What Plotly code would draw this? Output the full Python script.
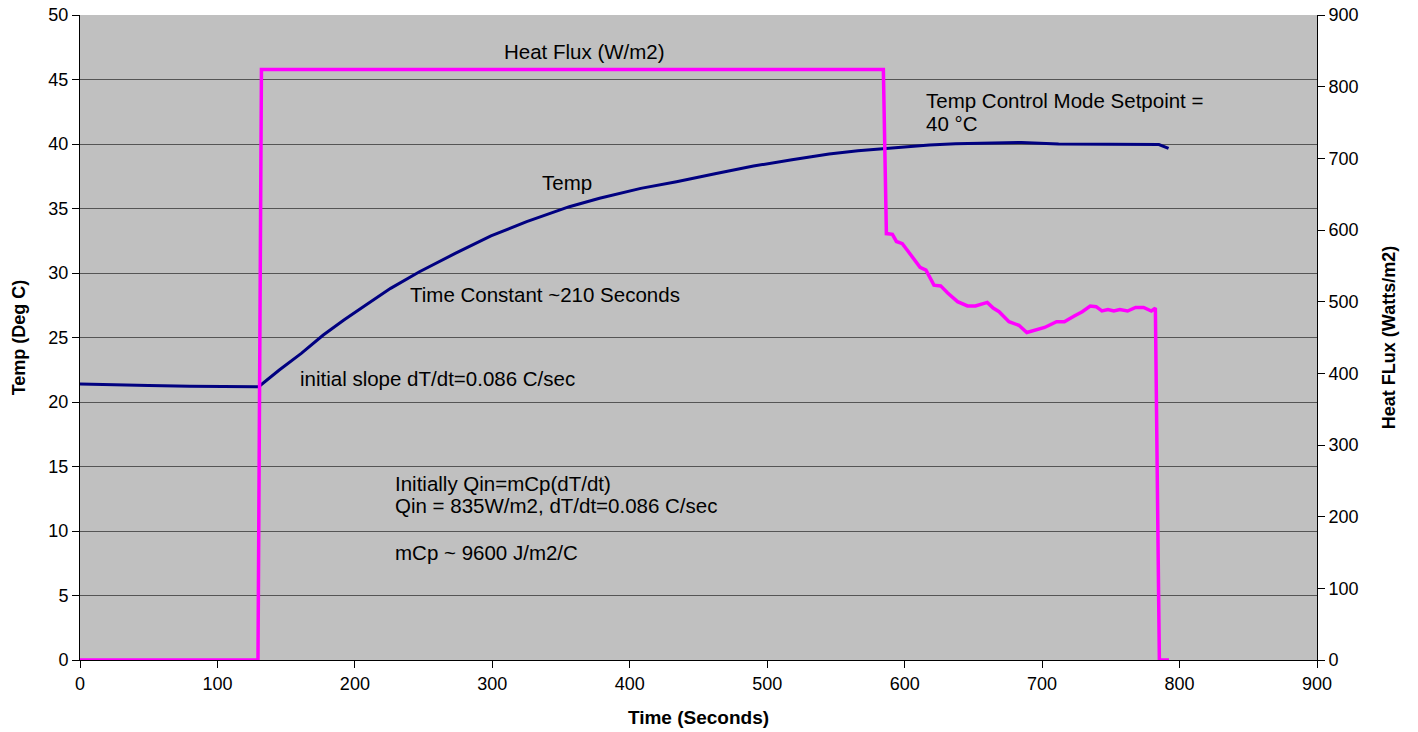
import plotly.graph_objects as go

# Temperature series (seconds, deg C)
temp_t = [0, 20, 50, 80, 104, 130, 145, 161, 177, 192, 208, 226, 247, 273, 299, 325,
          356, 378, 408, 434, 462, 490, 518, 545, 566, 587, 603, 618, 637, 657, 685,
          712, 735, 755, 775, 785, 792]
temp_v = [21.4, 21.33, 21.27, 21.23, 21.19, 21.18, 22.48, 23.77, 25.19, 26.36, 27.52,
          28.81, 30.1, 31.52, 32.87, 33.98, 35.14, 35.79, 36.56, 37.08, 37.7, 38.29,
          38.78, 39.22, 39.47, 39.66, 39.8, 39.92, 40.02, 40.08, 40.12, 40.0, 39.98,
          40.0, 39.98, 39.96, 39.66]

# Heat flux series (seconds, W/m2)
flux_t = [0, 129.5, 132, 584.5, 586.7, 591.1, 594, 598.3, 602.6, 606.9, 611.2, 615.5,
          618.4, 621.3, 626.2, 631.3, 638.5, 645.7, 651.5, 660.1, 664.4, 668.7, 675.9,
          683.1, 688.9, 694.6, 701.8, 710.5, 716.2, 723.4, 729.2, 735, 739.3, 743.5,
          747.9, 752.2, 756.5, 762.2, 768, 773.8, 779.5, 782.4, 785.3, 792.3]
flux_v = [0, 0, 824, 824, 595, 594, 584, 581, 570, 558, 548, 544, 533, 523, 522, 512,
          500, 494, 494, 499, 491, 486, 472, 467, 457, 460, 464, 472, 472, 480, 486,
          494, 493, 487, 489, 487, 489, 487, 492, 492, 487, 491, 0, 0]

x_ticks = [0, 100, 200, 300, 400, 500, 600, 700, 800, 900]
temp_ticks = [0, 5, 10, 15, 20, 25, 30, 35, 40, 45, 50]
flux_ticks = [0, 100, 200, 300, 400, 500, 600, 700, 800, 900]

FONT = "Liberation Sans, Arial, sans-serif"

fig = go.Figure()
fig.add_trace(go.Scatter(x=temp_t, y=temp_v, mode="lines", name="Temp",
                         line=dict(color="#000080", width=3), yaxis="y"))
fig.add_trace(go.Scatter(x=flux_t, y=flux_v, mode="lines", name="Heat Flux (W/m2)",
                         line=dict(color="#FF00FF", width=3.5), yaxis="y2"))

ann_font = dict(family=FONT, size=20.5, color="black")
notes = [
    dict(x=367, y=46.1, text="Heat Flux (W/m2)", xanchor="center", yanchor="bottom"),
    dict(x=335, y=36.0, text="Temp", xanchor="left", yanchor="bottom"),
    dict(x=238.6, y=28.3, text="Time Constant ~210 Seconds", xanchor="left", yanchor="middle"),
    dict(x=158.5, y=21.84, text="initial slope dT/dt=0.086 C/sec", xanchor="left", yanchor="middle"),
    dict(x=614.4, y=43.36, text="Temp Control Mode Setpoint =", xanchor="left", yanchor="middle"),
    dict(x=614.4, y=41.6, text="40 °C", xanchor="left", yanchor="middle"),
    dict(x=227.5, y=13.69, text="Initially Qin=mCp(dT/dt)", xanchor="left", yanchor="middle"),
    dict(x=227.5, y=11.99, text="Qin = 835W/m2, dT/dt=0.086 C/sec", xanchor="left", yanchor="middle"),
    dict(x=227.5, y=8.32, text="mCp ~ 9600 J/m2/C", xanchor="left", yanchor="middle"),
]
for n in notes:
    fig.add_annotation(xref="x", yref="y", showarrow=False, font=ann_font, align="left", **n)

tick_font = dict(family=FONT, size=18, color="black")
title_font = dict(family=FONT, size=18, color="black", weight="bold")

fig.update_layout(
    width=1418, height=732,
    margin=dict(l=80, r=101, t=15, b=72),
    paper_bgcolor="white",
    plot_bgcolor="#C0C0C0",
    showlegend=False,
    xaxis=dict(range=[0, 900], tickvals=x_ticks, ticks="outside", ticklen=7,
               tickcolor="black", showgrid=False, zeroline=False, automargin=False,
               showline=True, linecolor="black", linewidth=1,
               tickfont=tick_font,
               title=dict(text="Time (Seconds)", font=dict(family=FONT, size=19, color="black", weight="bold"), standoff=18)),
    yaxis=dict(range=[0, 50], tickvals=temp_ticks, ticks="outside", ticklen=7,
               tickcolor="black", showgrid=True, gridcolor="#555555", gridwidth=1,
               zeroline=False, showline=True, linecolor="black", linewidth=1,
               automargin=False, tickfont=tick_font,
               title=dict(text="Temp (Deg C)", font=title_font, standoff=18)),
    yaxis2=dict(range=[0, 900], tickvals=flux_ticks, overlaying="y", side="right",
                ticks="outside", ticklen=7, tickcolor="black", showgrid=False,
                zeroline=False, showline=True, linecolor="black", linewidth=1,
                automargin=False, tickfont=tick_font,
                title=dict(text="Heat FLux (Watts/m2)", font=title_font, standoff=24)),
)

fig.write_html("out.html")
